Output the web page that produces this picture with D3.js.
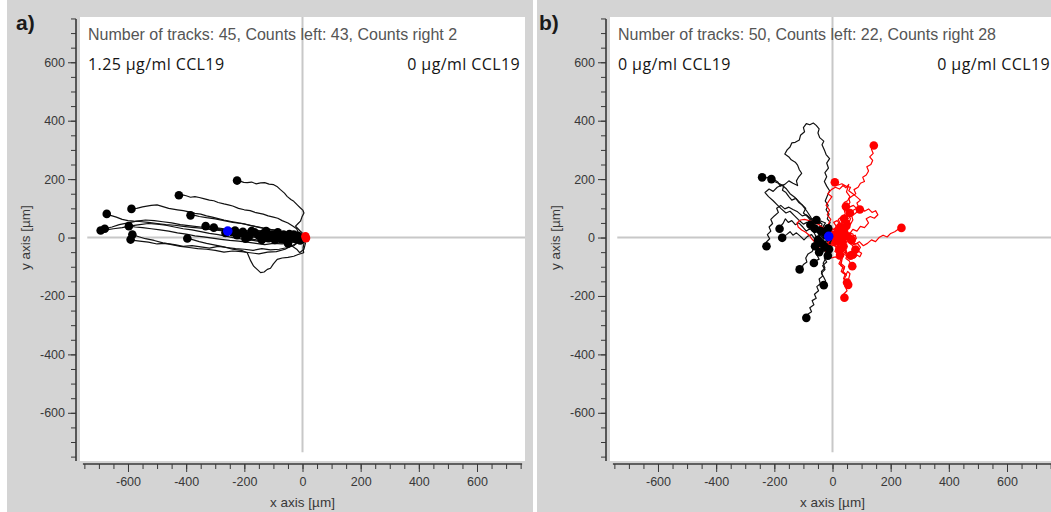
<!DOCTYPE html>
<html>
<head>
<meta charset="utf-8">
<script src="https://cdn.jsdelivr.net/npm/d3@7"></script>
<style>
  body { margin: 0; background: #fff; }
  .tick text { font-family: "Liberation Sans", Arial, sans-serif; font-size: 12.5px; fill: #383838; }
  .tick line { stroke: #383838; }
</style>
</head>
<body>
<script>
// axis ticks (µm)
const major_ticks = [-600, -400, -200, 0, 200, 400, 600]
const major_labels = ["-600", "-400", "-200", "0", "200", "400", "600"]
const minor_ticks = d3.range(-750, 751, 50)

// panel a: tracks start at the origin, last point is the end dot
const tracks_a_black = [
  [[0,0],[-4,10],[-1,16],[-10,24],[-24,39],[-15,48],[-7,56],[-2,70],[5,84],[1,94],[-7,101],[-18,112],[-30,124],[-40,130],[-53,141],[-62,152],[-76,164],[-88,175],[-99,181],[-115,183],[-130,188],[-144,187],[-160,184],[-175,190],[-190,188],[-202,189],[-215,193],[-225,195]],
  [[0,0],[-12,10],[-20,30],[-35,40],[-50,50],[-70,58],[-85,66],[-100,70],[-118,74],[-135,80],[-160,85],[-180,92],[-200,95],[-220,100],[-240,108],[-255,112],[-270,115],[-290,120],[-305,126],[-320,128],[-340,133],[-355,137],[-370,140],[-385,138],[-400,143],[-412,146],[-425,145]],
  [[0,0],[-15,5],[-30,8],[-50,14],[-80,20],[-100,26],[-130,30],[-150,35],[-175,40],[-200,47],[-220,50],[-245,55],[-270,60],[-290,65],[-310,70],[-330,74],[-350,80],[-370,83],[-390,88],[-410,92],[-430,95],[-460,100],[-480,106],[-500,112],[-520,110],[-550,105],[-570,100],[-588,98]],
  [[0,0],[-20,3],[-40,3],[-70,5],[-100,6],[-130,9],[-160,10],[-180,12],[-210,16],[-250,20],[-280,24],[-320,28],[-350,32],[-380,35],[-410,38],[-440,42],[-470,44],[-500,48],[-530,52],[-560,55],[-580,56],[-600,58],[-620,62],[-640,70],[-660,76],[-673,81]],
  [[0,0],[-20,8],[-45,12],[-70,18],[-95,25],[-120,30],[-150,36],[-180,42],[-210,48],[-240,52],[-270,58],[-300,64],[-330,68],[-355,72],[-370,76],[-385,76]],
  [[0,0],[-25,-6],[-50,-10],[-80,-12],[-110,-8],[-140,-14],[-170,-10],[-200,-6],[-230,-2],[-260,4],[-290,10],[-320,14],[-350,20],[-380,26],[-410,30],[-440,36],[-470,42],[-500,46],[-530,48],[-560,44],[-590,40],[-620,34],[-650,30],[-675,26],[-694,24]],
  [[0,0],[-20,4],[-45,2],[-75,8],[-105,4],[-135,10],[-165,14],[-195,18],[-225,22],[-260,24],[-290,28],[-320,32],[-350,36],[-385,40],[-420,44],[-450,50],[-480,54],[-510,58],[-540,60],[-570,56],[-600,50],[-630,44],[-655,36],[-680,30]],
  [[0,0],[-15,-15],[-30,-28],[-55,-35],[-80,-40],[-110,-42],[-140,-38],[-170,-44],[-200,-40],[-230,-38],[-260,-34],[-290,-30],[-320,-36],[-350,-32],[-380,-28],[-410,-30],[-440,-24],[-470,-20],[-500,-22],[-530,-16],[-560,-12],[-580,-10],[-591,-7]],
  [[0,0],[-20,-10],[-45,-18],[-70,-22],[-100,-20],[-130,-24],[-160,-20],[-190,-16],[-220,-12],[-250,-10],[-280,-6],[-310,-2],[-340,2],[-370,6],[-400,12],[-430,16],[-460,22],[-490,26],[-520,30],[-550,34],[-575,36],[-597,39]],
  [[0,0],[-20,-20],[-40,-30],[-60,-40],[-90,-48],[-120,-50],[-150,-56],[-180,-52],[-210,-48],[-240,-46],[-270,-50],[-300,-44],[-330,-40],[-360,-38],[-390,-34],[-420,-30],[-450,-24],[-480,-18],[-510,-10],[-540,-4],[-560,2],[-585,10]],
  [[0,0],[5,-20],[2,-35],[4,-52],[-15,-58],[-30,-64],[-50,-68],[-70,-70],[-87,-75],[-100,-90],[-110,-105],[-121,-109],[-132,-118],[-144,-120],[-155,-110],[-168,-98],[-178,-80],[-190,-52],[-210,-44],[-240,-40],[-270,-32],[-300,-26],[-330,-20],[-355,-14],[-375,-8],[-396,-3]],
  [[0,0],[-20,6],[-40,4],[-60,10],[-90,12],[-120,16],[-150,18],[-180,22],[-210,24],[-240,28],[-270,30],[-300,34],[-333,39]],
  [[0,0],[-25,-4],[-50,0],[-80,4],[-110,6],[-140,10],[-170,12],[-200,16],[-230,20],[-260,24],[-285,30],[-305,34]],
  [[0,0],[-20,6],[-45,3],[-70,10],[-95,8],[-120,14],[-150,12],[-180,16],[-210,14],[-240,18]],
  [[0,0],[-15,-4],[-40,2],[-65,-2],[-90,4],[-115,0],[-140,6],[-165,4],[-190,10],[-225,8]],
  [[0,0],[-25,8],[-50,4],[-80,12],[-110,10],[-140,16],[-170,14],[-205,20]],
  [[0,0],[-20,-6],[-45,-2],[-70,-8],[-95,-4],[-125,-6],[-155,0],[-185,2]],
  [[0,0],[-18,5],[-40,12],[-65,8],[-90,16],[-115,14],[-140,20],[-165,18]],
  [[0,0],[-22,-2],[-48,4],[-72,0],[-98,6],[-122,2],[-150,6]],
  [[0,0],[-16,8],[-38,4],[-60,12],[-85,10],[-110,16],[-135,14]],
  [[0,0],[-20,-8],[-42,-4],[-66,-10],[-90,-6],[-118,-2]],
  [[0,0],[-15,4],[-35,0],[-55,8],[-80,6],[-105,10]],
  [[0,0],[-18,10],[-40,6],[-62,14],[-90,12]],
  [[0,0],[-14,-6],[-32,-2],[-52,-8],[-78,-4]],
  [[0,0],[-20,6],[-40,2],[-65,10]],
  [[0,0],[-15,-4],[-32,4],[-55,0]],
  [[0,0],[-12,8],[-28,4],[-45,12]],
  [[0,0],[-14,-2],[-26,6],[-38,2]],
  [[0,0],[-10,6],[-20,2],[-30,10]],
  [[0,0],[-8,-4],[-16,2],[-22,-6]],
  [[0,0],[-6,4],[-12,-2],[-15,6]],
  [[0,0],[-4,-6],[-9,-2],[-8,-10]],
  [[0,0],[-30,12],[-60,8],[-90,18],[-120,16],[-150,24],[-180,20],[-210,26],[-232,24]],
  [[0,0],[-25,-10],[-50,-6],[-80,-14],[-110,-8],[-140,-12],[-170,-6],[-196,-4]],
  [[0,0],[-22,12],[-48,16],[-72,12],[-100,20],[-128,18],[-158,24],[-175,22]],
  [[0,0],[-30,-12],[-55,-16],[-85,-10],[-112,-14],[-140,-8]],
  [[0,0],[-20,14],[-45,18],[-70,14],[-95,20],[-125,22]],
  [[0,0],[-25,-14],[-50,-18],[-75,-12],[-95,-8]],
  [[0,0],[-20,16],[-40,12],[-62,18],[-85,18]],
  [[0,0],[-15,-12],[-35,-16],[-55,-10],[-70,-6]],
  [[0,0],[10,-20],[5,-40],[-10,-52],[-20,-40],[-35,-30],[-50,-20]],
  [[0,0],[-25,4],[-55,-2],[-85,6],[-115,2],[-145,8],[-175,6],[-210,12],[-250,10],[-265,16]],
  [[0,0],[-20,-3],[-45,4],[-70,-4],[-95,2],[-125,-2],[-160,4],[-198,8]]
]
const tracks_a_red = [
  [[0,0],[5,-4],[9,2],[12,-2]],
  [[0,0],[4,5],[8,2],[10,4]]
]
const mean_a = [-257, 22]

// panel b
const tracks_b_black = [
  [[0,0],[-8,12],[-3,25],[-14,38],[-8,52],[-18,64],[-12,80],[-22,95],[-15,110],[-25,125],[-18,142],[-10,160],[-20,176],[-28,192],[-20,208],[-26,222],[-14,238],[-20,255],[-10,270],[-22,284],[-28,300],[-36,318],[-30,330],[-44,342],[-50,358],[-46,372],[-56,384],[-66,392],[-78,386],[-90,390],[-100,376],[-96,362],[-110,350],[-114,334],[-128,326],[-140,324],[-146,310],[-156,300],[-164,286],[-150,276],[-142,266],[-128,258],[-120,248],[-114,232],[-106,220],[-116,208],[-124,194],[-120,178],[-136,186],[-150,194],[-164,182],[-180,176],[-188,190],[-200,198],[-214,210],[-228,204],[-242,206]],
  [[0,0],[-12,8],[-20,22],[-32,16],[-40,30],[-36,46],[-50,56],[-62,68],[-76,60],[-86,72],[-100,84],[-92,100],[-104,112],[-116,120],[-126,134],[-140,128],[-150,140],[-160,154],[-172,162],[-168,176],[-182,184],[-196,190],[-210,200]],
  [[0,0],[-10,-8],[-22,4],[-30,-6],[-42,8],[-56,2],[-64,18],[-78,30],[-90,22],[-102,36],[-116,50],[-128,44],[-140,58],[-152,52],[-162,64],[-170,48],[-178,40],[-182,30]],
  [[0,0],[-14,-10],[-24,2],[-36,-8],[-48,6],[-60,-6],[-72,10],[-86,4],[-98,-8],[-110,4],[-124,16],[-136,8],[-146,20],[-158,10],[-166,4],[-173,-1]],
  [[0,0],[-16,12],[-28,6],[-40,24],[-52,36],[-66,50],[-76,66],[-90,78],[-104,74],[-120,88],[-136,96],[-150,104],[-164,98],[-178,110],[-192,100],[-186,86],[-200,74],[-212,62],[-206,48],[-218,36],[-212,22],[-224,10],[-216,-4],[-228,-16],[-227,-30]],
  [[0,0],[-10,-14],[-22,-10],[-30,-24],[-42,-20],[-50,-36],[-62,-32],[-70,-48],[-84,-56],[-92,-70],[-88,-84],[-100,-92],[-104,-100],[-113,-109]],
  [[0,0],[-8,-12],[-18,-6],[-26,-20],[-36,-28],[-30,-42],[-44,-50],[-52,-62],[-46,-74],[-58,-80],[-64,-87]],
  [[0,0],[-6,-14],[-16,-22],[-10,-36],[-22,-46],[-14,-60],[-28,-70],[-20,-84],[-34,-96],[-26,-110],[-38,-122],[-30,-136],[-24,-148],[-30,-163]],
  [[0,0],[-10,-18],[-4,-34],[-16,-46],[-10,-62],[-24,-72],[-32,-88],[-26,-104],[-38,-116],[-34,-132],[-46,-142],[-42,-158],[-54,-168],[-48,-182],[-62,-194],[-56,-208],[-70,-216],[-64,-230],[-78,-240],[-72,-254],[-84,-262],[-90,-275]],
  [[0,0],[-12,10],[-20,2],[-30,18],[-42,14],[-52,28],[-62,22],[-70,36],[-76,44]],
  [[0,0],[-20,14],[-36,8],[-52,26],[-70,40],[-88,52],[-100,46],[-118,62],[-132,76],[-146,90],[-160,84],[-176,98],[-190,112],[-204,126],[-220,140],[-232,154],[-218,166],[-204,158],[-190,172],[-174,180],[-160,168],[-146,150],[-130,138],[-116,124],[-100,106],[-88,90],[-76,72],[-64,50],[-60,30]],
  [[0,0],[-8,10],[-16,4],[-24,16],[-14,24],[-22,36],[-34,30],[-42,40],[-50,32],[-44,22],[-40,22]],
  [[0,0],[-10,-8],[-4,-18],[-16,-24],[-24,-16],[-32,-26],[-24,-38],[-36,-44],[-30,-34],[-26,-32]],
  [[0,0],[-12,4],[-20,-6],[-32,-2],[-40,8],[-52,2],[-60,-10],[-50,-16],[-42,-12],[-50,-8]],
  [[0,0],[-6,-14],[-14,-24],[-4,-34],[-10,-46],[-22,-52],[-14,-60],[-24,-70],[-20,-56],[-16,-62]],
  [[0,0],[-10,16],[-2,28],[-14,34],[-24,24],[-32,38],[-24,50],[-38,56],[-46,46],[-55,60]],
  [[0,0],[-6,8],[2,18],[-8,26],[-16,18],[-22,28],[-12,36],[-15,32]],
  [[0,0],[-12,-10],[-4,-22],[-18,-28],[-28,-20],[-34,-34],[-26,-46],[-40,-52],[-46,-40],[-46,-50]],
  [[0,0],[-8,6],[-16,-2],[-24,8],[-16,16],[-28,20],[-22,10]],
  [[0,0],[-10,-4],[-18,-14],[-8,-22],[-20,-28],[-30,-20],[-40,-28],[-35,-22]],
  [[0,0],[-14,-8],[-8,-20],[-22,-24],[-34,-16],[-44,-26],[-56,-20],[-64,-32],[-60,-30]],
  [[0,0],[-4,-12],[-14,-16],[-8,-28],[-18,-34],[-10,-44],[-12,-40]]
]
const tracks_b_red = [
  [[0,0],[10,12],[6,26],[18,34],[26,48],[20,62],[32,72],[44,80],[40,96],[52,106],[60,120],[56,134],[68,142],[80,150],[74,164],[88,172],[96,186],[110,192],[104,206],[116,214],[124,228],[118,242],[132,250],[138,264],[128,276],[140,288],[134,302],[142,315]],
  [[0,0],[8,14],[18,10],[24,26],[14,36],[26,48],[40,56],[54,64],[48,78],[62,88],[76,96],[90,104],[84,118],[96,128],[82,140],[70,150],[56,160],[62,172],[46,176],[32,184],[20,180],[8,189]],
  [[0,0],[14,-6],[26,4],[40,-8],[54,-2],[66,-14],[80,-22],[92,-14],[106,-28],[120,-20],[134,-8],[148,-14],[160,0],[174,8],[188,2],[200,14],[214,20],[226,28],[237,33]],
  [[0,0],[12,10],[22,4],[30,18],[42,26],[38,40],[50,50],[62,46],[70,60],[66,74],[78,82],[86,90],[94,96]],
  [[0,0],[8,-14],[20,-22],[14,-36],[28,-46],[22,-60],[34,-72],[28,-88],[42,-100],[36,-116],[48,-128],[40,-142],[52,-154],[44,-168],[50,-182],[38,-194],[41,-206]],
  [[0,0],[14,-6],[24,4],[36,-10],[48,-4],[56,-18],[68,-26],[74,-36],[79,-41]],
  [[0,0],[10,-12],[22,-8],[30,-24],[42,-32],[38,-48],[50,-58],[46,-72],[58,-80],[62,-92],[68,-98]],
  [[0,0],[-10,14],[-22,26],[-36,36],[-50,46],[-66,52],[-80,58],[-96,62],[-110,60],[-122,50],[-118,36],[-106,26],[-92,18],[-80,8],[-70,-6],[-58,-18],[-48,-32],[-40,-48],[-26,-40],[-14,-28],[0,-20],[12,-10],[22,4],[30,12]],
  [[0,0],[16,10],[30,4],[44,18],[58,12],[70,28],[84,22],[96,38],[110,34],[124,50],[116,64],[130,72],[144,66],[156,78],[148,92],[136,86],[124,98],[110,90],[98,104],[84,98],[72,110],[58,104],[46,90],[52,76],[40,64]],
  [[0,0],[6,-16],[18,-26],[10,-40],[24,-50],[16,-64],[30,-74],[22,-90],[36,-100],[30,-116],[44,-126],[38,-140],[50,-150],[54,-162]],
  [[0,0],[-12,-10],[-20,-24],[-10,-36],[-24,-48],[-16,-62],[-4,-70],[10,-66],[20,-74],[26,-60]],
  [[0,0],[10,6],[4,16],[16,22],[24,12],[34,20],[28,32],[40,38],[48,28],[42,16],[52,8],[44,-2],[36,2]],
  [[0,0],[8,-6],[2,-16],[14,-22],[24,-14],[30,-26],[22,-36],[34,-44],[44,-36],[40,-24],[48,-14],[38,-8],[32,-14]],
  [[0,0],[12,12],[6,24],[18,30],[30,22],[38,34],[50,40],[44,52],[56,58],[62,46],[54,34],[46,26],[40,20]],
  [[0,0],[6,-10],[-4,-18],[6,-28],[18,-22],[26,-34],[20,-46],[32,-52],[42,-44],[50,-54],[46,-40],[38,-30]],
  [[0,0],[-6,10],[-14,20],[-4,30],[8,26],[12,40],[4,52],[16,58],[24,48],[20,38],[30,32],[26,36]],
  [[0,0],[10,-4],[20,4],[30,-6],[42,2],[54,-4],[64,6],[74,0],[70,12],[60,16],[52,4]],
  [[0,0],[8,8],[-2,16],[8,24],[20,18],[26,30],[18,38],[10,30],[18,14]],
  [[0,0],[12,-14],[4,-26],[16,-34],[28,-28],[34,-40],[46,-46],[42,-58],[54,-66],[66,-58],[70,-70],[62,-62]],
  [[0,0],[-8,-8],[-16,-20],[-6,-30],[6,-24],[14,-36],[8,-48],[20,-54],[30,-46],[24,-44]],
  [[0,0],[14,4],[24,-6],[36,2],[48,-8],[60,0],[70,-10],[82,-4],[78,8],[66,4],[66,-8]],
  [[0,0],[6,14],[-4,24],[8,32],[20,26],[30,36],[40,30],[52,38],[46,50],[56,58],[48,40]],
  [[0,0],[10,2],[14,-8],[24,-2],[32,-12],[26,-22],[16,-18],[22,-28],[28,-12]],
  [[0,0],[-6,-4],[-12,6],[-4,12],[6,8],[2,-4],[10,-10],[16,-2],[12,-12]],
  [[0,0],[-8,16],[-2,32],[-14,46],[-6,62],[-18,78],[-10,94],[-22,110],[-12,126],[-2,140],[-16,150],[-4,164],[10,172],[24,166],[36,178],[46,170],[56,182],[48,156],[60,140],[52,126],[40,120],[46,106]],
  [[0,0],[16,-10],[30,-4],[44,-18],[58,-12],[72,-24],[86,-20],[96,-34],[88,-46],[100,-54],[94,-66],[84,-60],[76,-70],[70,-58]],
  [[0,0],[12,20],[24,14],[36,30],[30,44],[42,56],[56,50],[62,64],[54,78],[60,84]],
  [[0,0],[8,-20],[20,-30],[14,-46],[26,-56],[20,-70],[32,-80],[28,-96],[40,-106],[34,-120],[46,-128],[52,-116],[60,-124],[56,-140],[50,-154]]
]
const mean_b = [-13, 4]

const panels = [
  {offset: 0, label: "a)", label_x: 16,
   title: "Number of tracks: 45, Counts left: 43, Counts right 2",
   left_text: "1.25 µg/ml CCL19", right_text: "0 µg/ml CCL19",
   black: tracks_a_black, red: tracks_a_red, mean: mean_a},
  {offset: 530, label: "b)", label_x: 9,
   title: "Number of tracks: 50, Counts left: 22, Counts right 28",
   left_text: "0 µg/ml CCL19", right_text: "0 µg/ml CCL19",
   black: tracks_b_black, red: tracks_b_red, mean: mean_b}
]

const svg = d3.select("body").append("svg")
    .attr("width", 1051)
    .attr("height", 512)

svg.append("rect").attr("width", 1051).attr("height", 512).attr("fill", "#fff")

function draw_panel(p) {
    const g = svg.append("g").attr("transform", "translate(" + p.offset + ",0)")

    g.append("rect")
        .attr("x", 7).attr("y", 0)
        .attr("width", 526).attr("height", 512)
        .attr("fill", "#d4d4d4")

    const x = d3.scaleLinear().domain([-765, 765]).range([80, 525])
    const y = d3.scaleLinear().domain([-765, 755]).range([461, 17])

    g.append("rect")
        .attr("x", 80).attr("y", 17)
        .attr("width", 445).attr("height", 444)
        .attr("fill", "#fff")

    // cross through the origin
    g.append("line")
        .attr("x1", x(-740)).attr("x2", x(765))
        .attr("y1", y(0)).attr("y2", y(0))
        .attr("stroke", "#c8c8c8").attr("stroke-width", 2)
    g.append("line")
        .attr("x1", x(0)).attr("x2", x(0))
        .attr("y1", y(755)).attr("y2", y(-735))
        .attr("stroke", "#c8c8c8").attr("stroke-width", 2)

    // y axis
    g.append("g")
        .attr("transform", "translate(76,0)")
        .call(d3.axisLeft(y).tickValues(minor_ticks).tickSize(5).tickFormat(""))
        .call(a => a.select(".domain").remove())
    g.append("g")
        .attr("transform", "translate(76,0)")
        .call(d3.axisLeft(y).tickValues(major_ticks).tickSize(8).tickPadding(3)
            .tickFormat((d, i) => major_labels[i]))
        .call(a => a.select(".domain").remove())
    g.append("line")
        .attr("x1", 76).attr("x2", 76)
        .attr("y1", 19).attr("y2", 461)
        .attr("stroke", "#383838").attr("stroke-width", 1.6)

    // x axis
    const x_axis_y = 464
    g.append("g")
        .attr("transform", "translate(0," + x_axis_y + ")")
        .call(d3.axisBottom(x).tickValues(minor_ticks).tickSize(5).tickFormat(""))
        .call(a => a.select(".domain").remove())
    g.append("g")
        .attr("transform", "translate(0," + x_axis_y + ")")
        .call(d3.axisBottom(x).tickValues(major_ticks).tickSize(8).tickPadding(5)
            .tickFormat((d, i) => major_labels[i]))
        .call(a => a.select(".domain").remove())
    g.append("line")
        .attr("x1", x(-755)).attr("x2", x(755))
        .attr("y1", x_axis_y).attr("y2", x_axis_y)
        .attr("stroke", "#383838").attr("stroke-width", 1.6)

    g.append("text")
        .attr("x", x(0)).attr("y", 507)
        .attr("text-anchor", "middle")
        .style("font-family", "Liberation Sans, Arial, sans-serif")
        .style("font-size", "13.5px").style("fill", "#383838")
        .text("x axis [µm]")
    g.append("text")
        .attr("transform", "translate(30," + y(0) + ") rotate(-90)")
        .attr("text-anchor", "middle")
        .style("font-family", "Liberation Sans, Arial, sans-serif")
        .style("font-size", "13.5px").style("fill", "#383838")
        .text("y axis [µm]")

    // tracks
    const line = d3.line().x(d => x(d[0])).y(d => y(d[1]))
    g.append("g").selectAll("path")
        .data(p.black).enter().append("path")
        .attr("d", line)
        .attr("fill", "none").attr("stroke", "#111").attr("stroke-width", 1.2)
        .attr("stroke-linejoin", "round")
    g.append("g").selectAll("path")
        .data(p.red).enter().append("path")
        .attr("d", line)
        .attr("fill", "none").attr("stroke", "#ff0000").attr("stroke-width", 1.2)
        .attr("stroke-linejoin", "round")

    g.append("g").selectAll("circle")
        .data(p.black).enter().append("circle")
        .attr("cx", d => x(d[d.length - 1][0]))
        .attr("cy", d => y(d[d.length - 1][1]))
        .attr("r", 4.3).attr("fill", "#000")
    g.append("g").selectAll("circle")
        .data(p.red).enter().append("circle")
        .attr("cx", d => x(d[d.length - 1][0]))
        .attr("cy", d => y(d[d.length - 1][1]))
        .attr("r", 4.3).attr("fill", "#ff0000")
    g.append("circle")
        .attr("cx", x(p.mean[0])).attr("cy", y(p.mean[1]))
        .attr("r", 4.8).attr("fill", "#0000ff")

    // texts
    g.append("text")
        .attr("x", p.label_x).attr("y", 30)
        .style("font-family", "Liberation Sans, Arial, sans-serif")
        .style("font-size", "21px").style("font-weight", "bold").style("fill", "#1a1a1a")
        .text(p.label)
    g.append("text")
        .attr("x", 88).attr("y", 40)
        .style("font-family", "Liberation Sans, Arial, sans-serif")
        .style("font-size", "16px").style("fill", "#555")
        .text(p.title)
    g.append("text")
        .attr("x", 88).attr("y", 70)
        .style("font-family", "Open Sans, sans-serif")
        .style("font-size", "16px").style("letter-spacing", "0.4px").style("fill", "#151515")
        .text(p.left_text)
    g.append("text")
        .attr("x", 520).attr("y", 70)
        .attr("text-anchor", "end")
        .style("font-family", "Open Sans, sans-serif")
        .style("font-size", "16px").style("letter-spacing", "0.4px").style("fill", "#151515")
        .text(p.right_text)
}

panels.forEach(draw_panel)
</script>
</body>
</html>
